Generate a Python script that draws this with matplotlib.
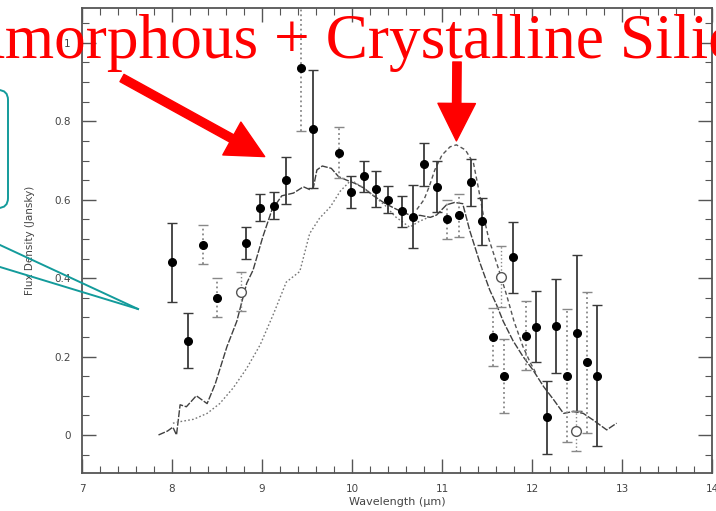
import numpy as np
import matplotlib
matplotlib.use('Agg')
import matplotlib.pyplot as plt
from matplotlib.patches import FancyBboxPatch
from matplotlib.ticker import MultipleLocator, FuncFormatter

# Измерения: закрашенные точки (длина волны, поток, ошибка)
pts_x = [8.00, 8.18, 8.34, 8.50, 8.82, 8.98, 9.13, 9.27, 9.43, 9.57, 9.86, 9.99,
         10.13, 10.27, 10.40, 10.56, 10.68, 10.80, 10.94, 11.06, 11.19, 11.32,
         11.44, 11.57, 11.69, 11.79, 11.93, 12.04, 12.17, 12.27, 12.39, 12.50,
         12.61, 12.72]
pts_y = [0.44, 0.24, 0.485, 0.35, 0.49, 0.58, 0.585, 0.65, 0.935, 0.78, 0.72, 0.62,
         0.66, 0.627, 0.60, 0.57, 0.557, 0.69, 0.633, 0.55, 0.56, 0.644,
         0.545, 0.25, 0.151, 0.453, 0.253, 0.276, 0.045, 0.279, 0.151, 0.26,
         0.185, 0.151]
pts_err = [0.10, 0.07, 0.05, 0.05, 0.04, 0.035, 0.035, 0.06, 0.16, 0.15, 0.065, 0.04,
           0.04, 0.045, 0.035, 0.04, 0.08, 0.055, 0.065, 0.05, 0.055, 0.06,
           0.06, 0.075, 0.095, 0.09, 0.088, 0.09, 0.093, 0.12, 0.17, 0.2,
           0.18, 0.18]

# Открытые кружки
open_x = [8.77, 11.66, 12.49]
open_y = [0.365, 0.404, 0.01]
open_err = [0.05, 0.077, 0.05]

# Модель: аморфные + кристаллические силикаты
a_x = [7.85, 7.95, 8.01, 8.05, 8.09, 8.16, 8.27, 8.39, 8.48, 8.61, 8.72, 8.83, 8.90,
       9.01, 9.11, 9.22, 9.35, 9.46, 9.53, 9.57, 9.61, 9.67, 9.77, 9.85, 9.94, 10.03,
       10.13, 10.24, 10.37, 10.5, 10.65, 10.76, 10.87, 10.94, 11.05, 11.14, 11.23,
       11.31, 11.42, 11.53, 11.61, 11.68, 11.79, 11.90, 12.01, 12.13, 12.24, 12.35,
       12.46, 12.57, 12.68, 12.83, 12.94]
a_y = [0.0, 0.01, 0.02, 0.0, 0.077, 0.072, 0.10, 0.08, 0.13, 0.225, 0.29, 0.387, 0.42,
       0.506, 0.574, 0.61, 0.617, 0.633, 0.626, 0.63, 0.676, 0.686, 0.68, 0.659, 0.65,
       0.642, 0.63, 0.61, 0.59, 0.575, 0.56, 0.56, 0.555, 0.561, 0.587, 0.593, 0.59,
       0.52, 0.44, 0.37, 0.33, 0.29, 0.24, 0.20, 0.166, 0.123, 0.09, 0.055,
       0.06, 0.055, 0.038, 0.013, 0.03]

# Модель: только аморфные
b_x = [8.01, 8.09, 8.24, 8.39, 8.53, 8.68, 8.83, 8.98, 9.13, 9.27, 9.42, 9.53, 9.64,
       9.76, 9.87, 9.99, 10.13, 10.24, 10.37, 10.48, 10.64, 10.75, 10.85]
b_y = [0.03, 0.034, 0.04, 0.055, 0.08, 0.12, 0.17, 0.23, 0.31, 0.39, 0.417, 0.514,
       0.553, 0.582, 0.622, 0.65, 0.63, 0.61, 0.585, 0.557, 0.53, 0.545, 0.555]

# Модель с кристаллическим пиком 11.2 мкм
c_x = [10.72, 10.80, 10.86, 10.92, 11.0, 11.09, 11.16, 11.26, 11.35, 11.40, 11.46,
       11.52, 11.57, 11.64, 11.72, 11.80, 11.90, 11.98, 12.05]
c_y = [0.575, 0.60, 0.635, 0.676, 0.714, 0.735, 0.74, 0.727, 0.693, 0.635, 0.56,
       0.50, 0.465, 0.415, 0.355, 0.29, 0.225, 0.185, 0.155]

title = 'Amorphous + Crystalline Silicates'

# Стиль
dotted_bars = [2, 3, 8, 10, 19, 20, 23, 24, 26, 30, 32]
W, H = 716, 511
gray = '#3a3a3a'

fig = plt.figure(figsize=(W / 100, H / 100), dpi=100)
ax = fig.add_axes([82 / W, 1 - 473 / H, 630 / W, 465 / H])

ax.plot(a_x, a_y, color='#404040', lw=1.0, ls=(0, (5, 1.2)))
ax.plot(b_x, b_y, color='#777777', lw=1.0, ls=(0, (1.2, 1.6)))
ax.plot(c_x, c_y, color='#555555', lw=1.0, ls=(0, (3, 2)))

for i in range(len(pts_x)):
    ls = ':' if i in dotted_bars else '-'
    c = '#888888' if i in dotted_bars else gray
    eb = ax.errorbar(pts_x[i], pts_y[i], yerr=pts_err[i], fmt='o', color='black',
                     ms=5.5, ecolor=c, elinewidth=1.3, capsize=3.5, capthick=1.0)
    eb[2][0].set_linestyle(ls)

for i in range(len(open_x)):
    eb = ax.errorbar(open_x[i], open_y[i], yerr=open_err[i], fmt='o', mfc='white',
                     mec='#555555', ms=7, ecolor='#888888', elinewidth=1.0,
                     capsize=3.5, capthick=1.0, zorder=3)
    eb[2][0].set_linestyle(':')

ax.set_xlim(7, 14)
ax.set_ylim(-0.097, 1.089)
ax.xaxis.set_major_locator(MultipleLocator(1))
ax.xaxis.set_minor_locator(MultipleLocator(0.2))
ax.yaxis.set_major_locator(MultipleLocator(0.2))
ax.yaxis.set_minor_locator(MultipleLocator(0.05))
ax.yaxis.set_major_formatter(FuncFormatter(lambda v, p: f'{v:g}' if v > -0.01 else ''))
ax.tick_params(which='both', direction='in', top=True, right=True,
               colors='#555555', labelcolor='#444444', labelsize=7.5)
ax.tick_params(which='major', length=10, width=1.0, pad=8)
ax.tick_params(which='minor', length=5, width=0.8)
for s in ax.spines.values():
    s.set_color('#555555')
    s.set_linewidth(1.3)
ax.set_xlabel('Wavelength (μm)', fontsize=8, color='#444444', labelpad=2)
ax.set_ylabel('Flux Density (Jansky)', fontsize=7.5, color='#444444', labelpad=14)

# Поверх графика: надпись, стрелки, выноска
ov = fig.add_axes([0, 0, 1, 1], zorder=5)
ov.set_xlim(0, W)
ov.set_ylim(H, 0)
ov.axis('off')
ov.patch.set_alpha(0)

ov.text(-41, 58, title, color='red', fontsize=45.6, family='Liberation Serif',
        va='baseline', ha='left')

arrow = dict(facecolor='red', edgecolor='red', width=6, headwidth=27,
             headlength=27, shrink=0)
ax.annotate('', xy=(9.03, 0.71), xytext=(122, 78), textcoords=ov.transData,
            arrowprops=arrow, annotation_clip=False)
ax.annotate('', xy=(11.16, 0.75), xytext=(457, 62), textcoords=ov.transData,
            arrowprops=arrow, annotation_clip=False)

teal = '#139b9b'
ov.add_patch(FancyBboxPatch((-300, 90), 308, 118, boxstyle='round,pad=0,rounding_size=10',
                            fc='none', ec=teal, lw=1.4))
ov.plot([0, 138], [245, 309], color=teal, lw=1.4)
ov.plot([0, 138], [267, 309], color=teal, lw=1.4)

fig.savefig('out.png', dpi=100)
